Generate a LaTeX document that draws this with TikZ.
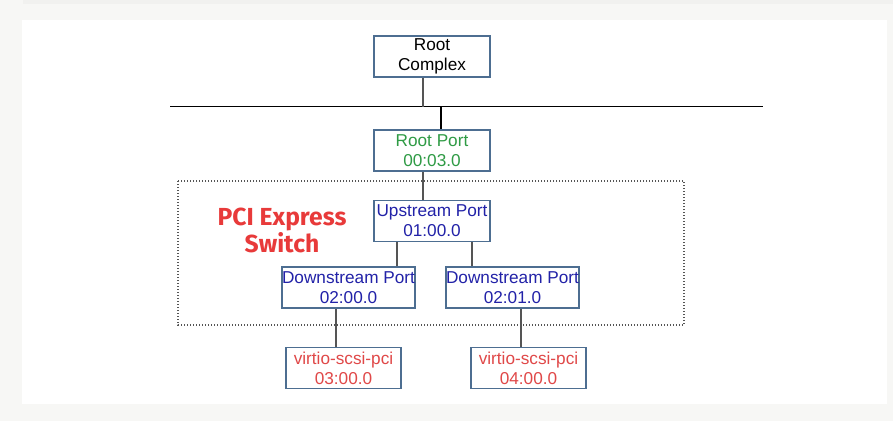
\documentclass[tikz,border=0pt]{standalone}
\usepackage{fontspec}
\setmainfont{Liberation Sans}
\newfontfamily\switchfont{Fira Sans}

\begin{document}
\begin{tikzpicture}[
    x=0.75pt, y=-0.75pt,
    every node/.style={font=\fontsize{12.9}{15}\selectfont},
    portbox/.style={draw=boxcolor, line width=0.8pt, fill=white, align=center,
        inner sep=0pt, minimum height=30.75pt},
    link/.style={draw=linkcolor, line width=1pt},
    busline/.style={draw=black, line width=1pt},
]

\definecolor{pagebg}{HTML}{F7F7F5}
\definecolor{stripbg}{HTML}{F1F1EF}
\definecolor{boxcolor}{HTML}{4D6E91}
\definecolor{linkcolor}{HTML}{555555}
\definecolor{rootgreen}{HTML}{2F9B45}
\definecolor{portblue}{HTML}{2222A8}
\definecolor{devred}{HTML}{E04848}
\definecolor{switchred}{HTML}{E83A3A}

% ---------------------------------------------------------------- page
\fill[pagebg] (0,0) rectangle (893,421);
\fill[stripbg] (23,0) rectangle (893,4);
\fill[white] (22,20) rectangle (887,404);

% ---------------------------------------------------------------- switch frame
\draw[linkcolor, line width=1pt, dash pattern=on 1.1pt off 1.15pt]
    (178,181) rectangle (684,325);
\node[font=\switchfont\bfseries\fontsize{18.5}{20.25}\selectfont, text=switchred,
    align=center] (swlabel) at (282,230) {PCI Express\\Switch};

% ---------------------------------------------------------------- ports
\node[portbox, minimum width=87pt, text=black] (rc) at (432,56.5) {Root\\Complex};
\node[portbox, minimum width=87pt, text=rootgreen] (rp) at (432,150.5) {Root Port\\00:03.0};
\node[portbox, minimum width=87pt, text=portblue] (up) at (432,221) {Upstream Port\\01:00.0};
\node[portbox, minimum width=99.75pt, text=portblue] (dp1) at (348.5,287.5)
    {Downstream Port\\02:00.0};
\node[portbox, minimum width=99.75pt, text=portblue] (dp2) at (512.5,287.5)
    {Downstream Port\\02:01.0};
\node[portbox, minimum width=86.25pt, text=devred] (v1) at (343.5,368)
    {virtio-scsi-pci\\03:00.0};
\node[portbox, minimum width=86.25pt, text=devred] (v2) at (528.5,368)
    {virtio-scsi-pci\\04:00.0};

% ---------------------------------------------------------------- bus
\coordinate (busL) at (170,106.5);
\coordinate (busR) at (763,106.5);
\coordinate (tapA) at (423,106.5);
\coordinate (tapB) at (441,106.5);
\draw[busline] (busL) -- (busR);

% ---------------------------------------------------------------- links
\draw[link] (tapA |- rc.south) -- (tapA);
\draw[busline] (tapB) -- (tapB |- rp.north);
\draw[link] (rp.south -| tapA) -- (up.north -| tapA);
\draw[link] ([xshift=-26.25pt]up.south) -- ([xshift=-26.25pt]up.south |- dp1.north);
\draw[link] ([xshift=30pt]up.south) -- ([xshift=30pt]up.south |- dp2.north);
\draw[link] ([xshift=-9.4pt]dp1.south) -- ([xshift=-9.4pt]dp1.south |- v1.north);
\draw[link] ([xshift=6.4pt]dp2.south) -- ([xshift=6.4pt]dp2.south |- v2.north);

\end{tikzpicture}
\end{document}
